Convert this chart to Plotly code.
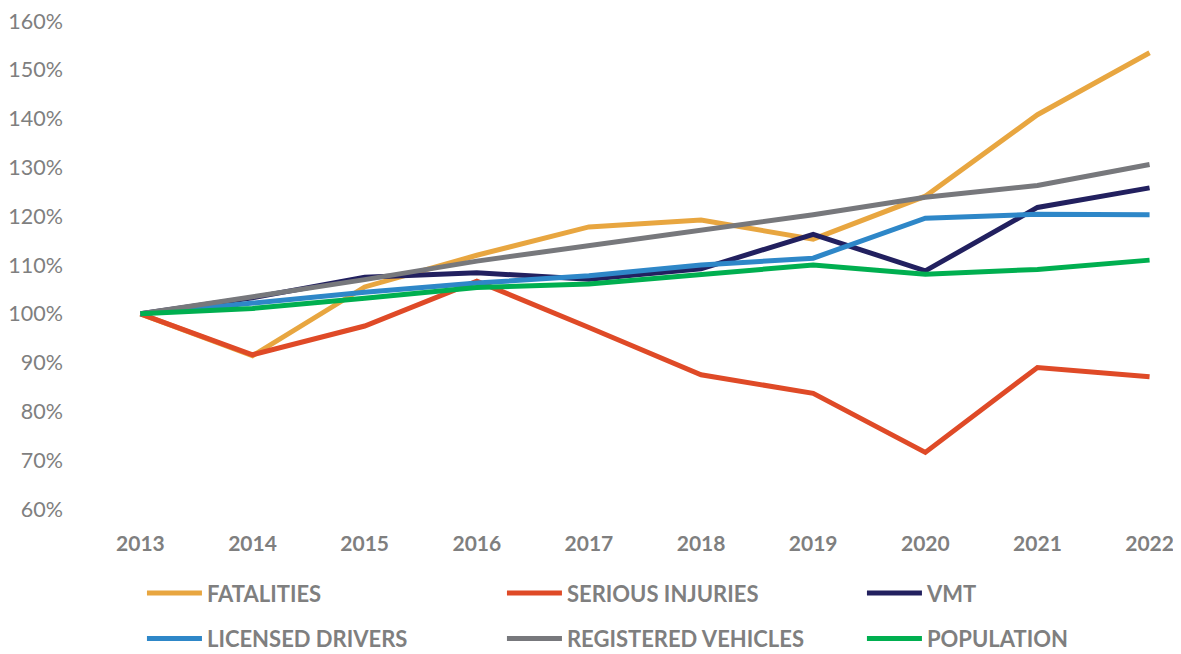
import plotly.graph_objects as go

years = [2013, 2014, 2015, 2016, 2017, 2018, 2019, 2020, 2021, 2022]

fatalities = [100, 91.4, 105.5, 112.0, 117.8, 119.2, 115.3, 124.1, 140.8, 153.5]
serious_injuries = [100, 91.6, 97.5, 106.7, 97.2, 87.5, 83.7, 71.6, 89.0, 87.1]
vmt = [100, 103.3, 107.5, 108.4, 107.1, 109.2, 116.3, 108.8, 121.8, 125.8]
licensed_drivers = [100, 102.2, 104.4, 106.3, 107.8, 110.0, 111.4, 119.6, 120.4, 120.3]
registered_vehicles = [100, 103.4, 107.0, 110.8, 113.9, 117.1, 120.3, 123.9, 126.3, 130.6]
population = [100, 101.1, 103.2, 105.4, 106.1, 108.0, 110.0, 108.1, 109.1, 111.0]

y_ticks = [60, 70, 80, 90, 100, 110, 120, 130, 140, 150, 160]
y_tick_labels = [f"{v}%" for v in y_ticks]

# (name, values, colour, legend column)
series = [
    ("FATALITIES", fatalities, "#E8A640", "legend"),
    ("SERIOUS INJURIES", serious_injuries, "#DF4A27", "legend2"),
    ("VMT", vmt, "#22205F", "legend3"),
    ("LICENSED DRIVERS", licensed_drivers, "#2E87C8", "legend"),
    ("REGISTERED VEHICLES", registered_vehicles, "#77787C", "legend2"),
    ("POPULATION", population, "#00AF50", "legend3"),
]

FONT = "Lato, 'Noto Sans', sans-serif"

fig = go.Figure()
for name, vals, color, lg in series:
    fig.add_trace(go.Scatter(
        x=years, y=vals, name=name, mode="lines",
        line=dict(color=color, width=5),
        legend=lg, legendgroup=name,
    ))

legend_font = dict(family=FONT, size=22, color="#7F7F7F", weight="bold")


def legend_cfg(x):
    return dict(
        orientation="v", xref="container", yref="container",
        x=x, y=0.0585, xanchor="left", yanchor="middle",
        font=legend_font, itemwidth=55, tracegroupgap=14,
        bgcolor="rgba(0,0,0,0)",
    )


# the page body adds an 8px offset, so the figure is 8px smaller than the window
fig.update_layout(
    width=1173, height=646,
    margin=dict(l=110, r=9, t=13, b=145, autoexpand=False),
    paper_bgcolor="white", plot_bgcolor="white",
    xaxis=dict(
        range=[2012.8, 2022.2], tickvals=years, ticktext=[str(y) for y in years],
        showgrid=False, zeroline=False, showline=False, automargin=False,
        tickfont=dict(family=FONT, size=21, color="#7F7F7F", weight="bold"),
        ticklabelstandoff=20, ticklabeloverflow="allow",
    ),
    yaxis=dict(
        range=[60, 160], tickvals=y_ticks, ticktext=y_tick_labels,
        showgrid=False, zeroline=False, showline=False, automargin=False,
        tickfont=dict(family=FONT, size=21.5, color="#7F7F7F"),
        ticklabelstandoff=54, ticklabeloverflow="allow",
    ),
    legend=legend_cfg(0.1142),
    legend2=legend_cfg(0.4211),
    legend3=legend_cfg(0.728),
    showlegend=True,
)

fig.write_html("out.html")
